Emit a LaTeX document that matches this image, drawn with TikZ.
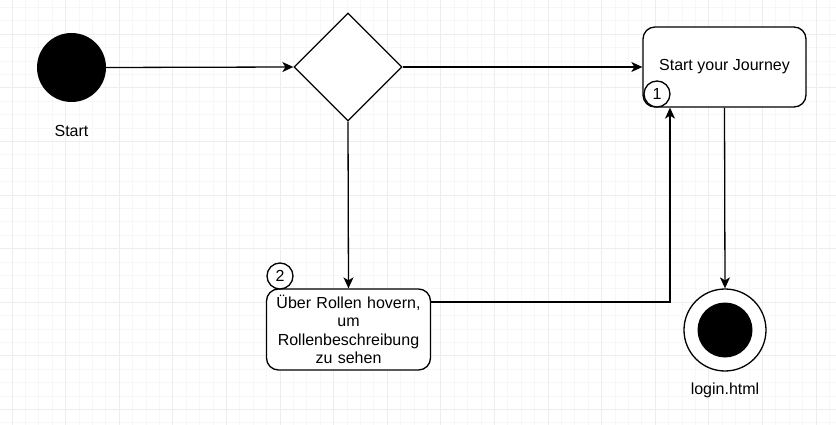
\documentclass[tikz,border=0pt]{standalone}
\usepackage{fontspec}
\setmainfont{Liberation Sans}
\usetikzlibrary{arrows.meta,shapes.geometric,positioning}

\tikzset{
    minorgrid/.style={draw=black!3,line width=0.7pt},
    majorgrid/.style={draw=black!7,line width=0.7pt},
    flow/.style={-{Stealth[length=11pt,width=10pt,inset=3pt]},line width=1.3pt},
    actbox/.style={draw,rounded corners=12pt,fill=white,line width=1.3pt,
        minimum width=163pt,minimum height=80pt,align=center,inner sep=2pt},
    badge/.style={circle,draw,fill=white,line width=1.3pt,minimum size=26pt,inner sep=0pt}
}

\begin{document}
\begin{tikzpicture}[x=1pt,y=-1pt,font=\fontsize{16}{18.5}\selectfont]
    \useasboundingbox (0,0) rectangle (836,425);

    % grid
    \foreach \i in {0,...,63} {\draw[minorgrid] ({-1.4+13.4*\i},0) -- ++(0,425);}
    \foreach \j in {0,...,31} {\draw[minorgrid] (0,{7.4+13.4*\j}) -- ++(836,0);}
    \foreach \i in {0,...,15} {\draw[majorgrid] ({12+53.6*\i},0) -- ++(0,425);}
    \foreach \j in {0,...,7} {\draw[majorgrid] (0,{34.2+53.6*\j}) -- ++(836,0);}

    \begin{scope}[every node/.style={inner sep=0pt}]
        \node[circle,fill=black,minimum size=69pt] (start) at (71.5,67.5) {};
        \node (startlabel) at (71.5,131) {Start};
        \node[diamond,draw,fill=white,line width=1.3pt,minimum width=108pt,minimum height=108pt] (choice) at (348,67) {};
        \node[circle,draw,fill=white,line width=1.3pt,minimum size=82pt] (final) at (725,330) {};
        \node[circle,fill=black,minimum size=55pt] (finaldot) at (final) {};
        \node (finallabel) at (725,390) {login.html};
    \end{scope}

    \node[actbox] (journey) at (724.5,67) {\raisebox{-3pt}{Start your Journey}};
    \node[actbox,minimum height=81pt,text width=160pt] (roles) at (348.5,329.5)
        {Über Rollen hovern,\\ um\\ Rollenbeschreibung\\ zu sehen};
    \node[badge] (badge1) at (657,94) {1};
    \node[badge] (badge2) at (280,276) {2};

    \coordinate (elbow) at (670,302);

    \begin{scope}[every path/.style={flow}]
        \path (start.east) edge (choice.west);
        \path (choice.east) edge (journey.west);
        \path (choice.south) edge (roles.north);
        \path (journey.south) edge (final.north);
        \draw (roles.east |- elbow) -- (elbow) -- (journey.south -| elbow);
    \end{scope}
\end{tikzpicture}
\end{document}
